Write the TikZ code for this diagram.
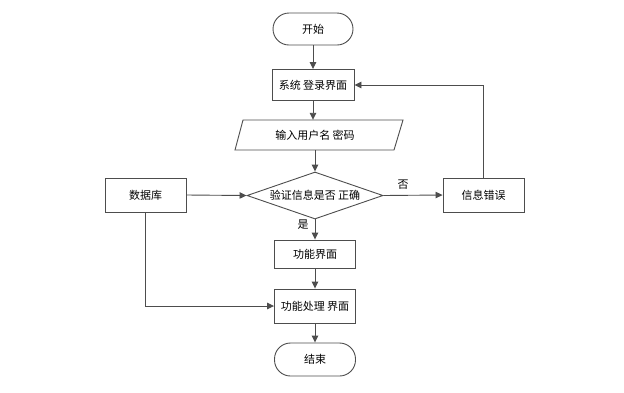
\documentclass[tikz,border=0pt]{standalone}
\usepackage{fontspec}
\newfontfamily\cjk{Noto Sans CJK SC}
\usetikzlibrary{shapes.geometric,arrows.meta}
\definecolor{linec}{HTML}{4D4D4D}
\begin{document}
\begin{tikzpicture}[x=1pt,y=-1pt,
  txt/.style={font=\cjk\fontsize{11}{13}\selectfont, text=black, inner sep=0pt},
  box/.style={txt, draw=linec, line width=0.9pt, fill=white, minimum width=81pt, minimum height=33pt},
  term/.style={box, rounded corners=16pt},
  arr/.style={draw=linec, line width=0.9pt, -{Triangle[length=7pt,width=6.5pt]}},
  lab/.style={txt}]
\useasboundingbox (0,0) rectangle (624,392);
\fill[white] (0,0) rectangle (624,392);
\node[term, minimum width=80pt, minimum height=32pt] (start) at (313,29) {开始};
\node[box, minimum width=82pt, minimum height=31pt] (login) at (313,85) {系统 登录界面};
\draw[linec, line width=0.9pt, fill=white] (235,150) -- (243,120) -- (403,120) -- (394,150) -- cycle;
\node[txt, minimum width=150pt, minimum height=30pt] (input) at (315,135) {输入用户名 密码};
\node[txt, draw=linec, line width=0.9pt, fill=white, shape=diamond, aspect=2.9, minimum width=136pt, minimum height=47pt] (check) at (315,195.5) {验证信息是否 正确};
\node[box, minimum height=34pt] (db) at (145.5,195) {数据库};
\node[box, minimum height=34pt] (err) at (483.5,195) {信息错误};
\node[box, minimum height=28pt] (func) at (315,254) {功能界面};
\node[box, minimum height=34pt] (proc) at (315,306) {功能处理 界面};
\node[term, minimum width=81pt, minimum height=33pt] (end) at (315,359.5) {结束};
\node[lab] (no) at (403,185) {否};
\node[lab] (yes) at (303,225) {是};
\draw[arr] (start.south) -- (start.south |- login.north);
\draw[arr] (login.south) -- (login.south |- input.north);
\draw[arr] (input.south) -- (check.north);
\draw[arr] (db.east) -- (check.west);
\draw[arr] (check.east) -- (err.west);
\draw[arr] (err.north) |- (login.east);
\draw[arr] (check.south) -- (func.north);
\draw[arr] (func.south) -- (proc.north);
\draw[arr] (db.south) |- (proc.west);
\draw[arr] (proc.south) -- (end.north);
\end{tikzpicture}
\end{document}
